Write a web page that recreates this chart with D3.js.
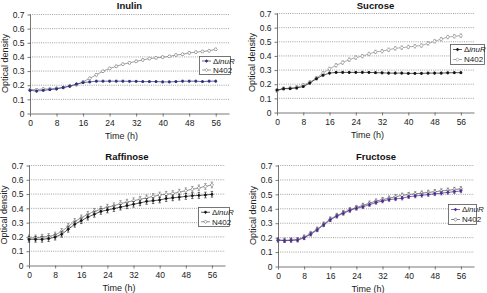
<!DOCTYPE html>
<html>
<head>
<meta charset="utf-8">
<script src="https://cdn.jsdelivr.net/npm/d3@7"></script>
<style>
  body { margin: 0; background: #fff; }
  svg { display: block; font-family: "Liberation Sans", Arial, sans-serif; }
</style>
</head>
<body>
<div id="chart"></div>
<script>
// time points (h)
var hours = [0,2,4,6,8,10,12,14,16,18,20,22,24,26,28,30,32,34,36,38,40,42,44,46,48,50,52,54,56];
var yTicks = [0, 0.1, 0.2, 0.3, 0.4, 0.5, 0.6, 0.7];
var xTicks = [0, 8, 16, 24, 32, 40, 48, 56];
var seriesNames = ["inuR", "N402"];

var inulinDelta = [0.16,0.155,0.16,0.165,0.17,0.18,0.19,0.205,0.215,0.22,0.225,0.225,0.225,0.225,0.225,0.224,0.224,0.222,0.222,0.222,0.22,0.22,0.222,0.225,0.225,0.225,0.222,0.225,0.225];
var inulinN402 = [0.165,0.165,0.17,0.17,0.175,0.18,0.19,0.2,0.22,0.245,0.27,0.295,0.315,0.33,0.345,0.355,0.365,0.375,0.385,0.39,0.395,0.4,0.41,0.415,0.425,0.43,0.435,0.44,0.45];

var sucroseDelta = [0.155,0.165,0.165,0.17,0.18,0.205,0.235,0.26,0.275,0.28,0.28,0.28,0.28,0.28,0.28,0.278,0.277,0.275,0.275,0.275,0.273,0.273,0.273,0.275,0.275,0.275,0.277,0.278,0.278];
var sucroseN402 = [0.15,0.165,0.17,0.175,0.19,0.21,0.24,0.275,0.305,0.33,0.35,0.37,0.385,0.395,0.41,0.425,0.43,0.44,0.45,0.455,0.46,0.465,0.47,0.485,0.5,0.515,0.53,0.535,0.54];

var raffinoseDelta = [0.18,0.18,0.18,0.185,0.195,0.215,0.25,0.285,0.31,0.335,0.355,0.375,0.385,0.395,0.405,0.415,0.425,0.435,0.445,0.45,0.455,0.465,0.47,0.475,0.48,0.485,0.487,0.49,0.495];
var raffinoseN402 = [0.19,0.19,0.195,0.2,0.21,0.235,0.27,0.305,0.33,0.355,0.375,0.39,0.405,0.415,0.43,0.44,0.45,0.46,0.47,0.48,0.49,0.495,0.5,0.51,0.52,0.53,0.54,0.55,0.56];

var fructoseDelta = [0.18,0.175,0.178,0.18,0.195,0.22,0.25,0.285,0.32,0.345,0.365,0.385,0.4,0.41,0.425,0.44,0.45,0.46,0.465,0.47,0.48,0.485,0.49,0.495,0.5,0.505,0.51,0.515,0.52];
var fructoseN402 = [0.18,0.178,0.18,0.182,0.2,0.225,0.255,0.29,0.325,0.35,0.37,0.39,0.405,0.42,0.435,0.45,0.46,0.47,0.48,0.49,0.495,0.5,0.505,0.51,0.515,0.52,0.525,0.53,0.535];

// standard error per series (approx)
var inulinErr = [0.006, 0.008];
var sucroseErr = [0.006, 0.012];
var raffinoseErr = [0.02, 0.02];
var fructoseErr = [0.012, 0.015];

var panels = [
  { title: "Inulin", delta: inulinDelta, n402: inulinN402, err: inulinErr,
    x0: 30, x1: 229, yTop: 14, yBot: 113, leg: [199, 56, 31, 18], c: ["#2d2d7a", "#777"] },
  { title: "Sucrose", delta: sucroseDelta, n402: sucroseN402, err: sucroseErr,
    x0: 277, x1: 474, yTop: 13, yBot: 112, leg: [450, 44, 34, 20], c: ["#111", "#888"] },
  { title: "Raffinose", delta: raffinoseDelta, n402: raffinoseN402, err: raffinoseErr,
    x0: 29, x1: 225, yTop: 165, yBot: 265, leg: [198, 207, 31, 19], c: ["#111", "#666"] },
  { title: "Fructose", delta: fructoseDelta, n402: fructoseN402, err: fructoseErr,
    x0: 278, x1: 474, yTop: 165, yBot: 266, leg: [448, 204, 28, 20], c: ["#4a2a8c", "#555"] }
];

var svg = d3.select("#chart").append("svg")
  .attr("width", 487).attr("height", 293);

var markDelta = "M0,-1.4L1.4,0L0,1.4L-1.4,0Z";
var markN402 = "M0,-1.7L1.7,0L0,1.7L-1.7,0Z";

panels.forEach(function(p) {
  var x = d3.scaleLinear().domain([0, 60]).range([p.x0, p.x1]);
  var y = d3.scaleLinear().domain([0, 0.7]).range([p.yBot, p.yTop]);
  var g = svg.append("g");

  // gridlines
  g.selectAll(".grid").data(yTicks.slice(1)).enter().append("line")
    .attr("x1", p.x0).attr("x2", p.x1)
    .attr("y1", function(d) { return y(d) + 0.5; })
    .attr("y2", function(d) { return y(d) + 0.5; })
    .attr("stroke", "#888").attr("stroke-width", 0.8)
    .attr("stroke-dasharray", "1,1.2");

  var yAxis = g.append("g").attr("transform", "translate(" + (p.x0 + 0.5) + ",0.5)")
    .call(d3.axisLeft(y).tickValues(yTicks).tickSize(3).tickPadding(3)
      .tickFormat(function(d) { return d === 0 ? "0" : d3.format(".1f")(d); }));
  var xAxis = g.append("g").attr("transform", "translate(0," + (p.yBot + 0.5) + ")")
    .call(d3.axisBottom(x).tickValues(xTicks).tickSize(3).tickPadding(3).tickSizeOuter(0));
  [yAxis, xAxis].forEach(function(a) {
    a.select(".domain").attr("stroke", "#555").attr("stroke-width", 0.8);
    a.selectAll(".tick line").attr("stroke", "#555").attr("stroke-width", 0.8);
    a.selectAll(".tick text").attr("fill", "#222").style("font-size", "8.5px");
  });
  yAxis.select(".domain").attr("d", "M0," + p.yBot + "V" + p.yTop);

  g.append("text").attr("x", (p.x0 + p.x1) / 2).attr("y", Math.max(p.yTop - 5, 9))
    .attr("text-anchor", "middle").style("font-size", "9.5px").style("font-weight", "bold")
    .attr("fill", "#111").text(p.title);
  g.append("text").attr("x", (p.x0 + p.x1) / 2 - 8).attr("y", p.yBot + 26)
    .attr("text-anchor", "middle").style("font-size", "9px").attr("fill", "#222").text("Time (h)");
  g.append("text")
    .attr("transform", "translate(" + (p.x0 - 22) + "," + ((p.yTop + p.yBot) / 2) + ") rotate(-90)")
    .attr("text-anchor", "middle").style("font-size", "9px").attr("fill", "#222").text("Optical density");

  var line = d3.line().x(function(d, i) { return x(hours[i]); }).y(function(d) { return y(d); });

  [p.n402, p.delta].forEach(function(vals, k) {
    var si = k === 0 ? 1 : 0;
    var col = p.c[si], e = p.err[si];
    var s = g.append("g");
    s.append("path").datum(vals).attr("d", line)
      .attr("fill", "none").attr("stroke", col).attr("stroke-width", 0.7);
    s.selectAll(".eb").data(vals).enter().append("path")
      .attr("d", function(d, i) {
        var cx = x(hours[i]), a = y(d + e), b = y(d - e);
        return "M" + cx + "," + a + "V" + b + "M" + (cx - 1.2) + "," + a + "H" + (cx + 1.2) +
          "M" + (cx - 1.2) + "," + b + "H" + (cx + 1.2);
      })
      .attr("stroke", col).attr("stroke-width", 0.6).attr("fill", "none");
    s.selectAll(".mk").data(vals).enter().append("path")
      .attr("transform", function(d, i) { return "translate(" + x(hours[i]) + "," + y(d) + ")"; })
      .attr("d", si === 0 ? markDelta : markN402)
      .attr("fill", si === 0 ? col : "#fff").attr("stroke", col).attr("stroke-width", 0.6);
  });

  // legend
  var L = p.leg;
  var lg = g.append("g").attr("transform", "translate(" + L[0] + "," + L[1] + ")");
  lg.append("rect").attr("x", 0.5).attr("y", 0.5).attr("width", L[2]).attr("height", L[3])
    .attr("fill", "#fff").attr("stroke", "#555").attr("stroke-width", 0.8);
  seriesNames.forEach(function(n, i) {
    var cy = L[3] * (i * 2 + 1) / 4 + 0.5;
    var col = p.c[i];
    lg.append("line").attr("x1", 3).attr("x2", 12).attr("y1", cy).attr("y2", cy)
      .attr("stroke", col).attr("stroke-width", 0.7);
    lg.append("path").attr("transform", "translate(7.5," + cy + ")")
      .attr("d", i === 0 ? markDelta : markN402)
      .attr("fill", i === 0 ? col : "#fff").attr("stroke", col).attr("stroke-width", 0.6);
    var t = lg.append("text").attr("x", 14).attr("y", cy + 2.8)
      .style("font-size", "8px").attr("fill", "#222");
    if (i === 0) {
      t.append("tspan").text("\u0394");
      t.append("tspan").style("font-style", "italic").text("inuR");
    } else {
      t.text(n);
    }
  });
});
</script>
</body>
</html>
